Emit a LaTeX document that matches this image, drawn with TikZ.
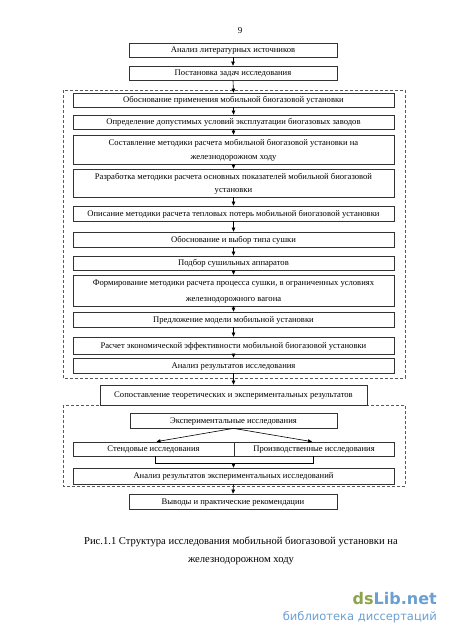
\documentclass[tikz,border=0pt]{standalone}
\usepackage{fontspec}
\setmainfont{Liberation Serif}
\newfontfamily\wmfont{DejaVu Sans}
\usetikzlibrary{arrows.meta}
\definecolor{wmgreen}{HTML}{8DA34B}
\definecolor{wmblue}{HTML}{6A9FD3}
\begin{document}
\begin{tikzpicture}[x=1pt,y=-1pt,
  box/.style={draw=black!80, line width=0.7pt, fill=white, inner sep=0pt, align=center,
    font=\fontsize{8.6}{10.3}\selectfont},
  one/.style={box, text height=5pt, text depth=0pt},
  two/.style={box, text depth=0pt},
  arr/.style={line width=0.6pt, -{Triangle[length=4pt,width=3.5pt]}},
  dashbox/.style={draw=black!65, line width=0.7pt, dash pattern=on 3pt off 2pt},
  ln/.style={line width=0.6pt}]
\useasboundingbox (0,0) rectangle (450,637);
\node (pg) at (240,31) {\fontsize{9}{11}\selectfont 9};
% dashed frames
\draw[dashbox] (63,90) rectangle (405,378);
\draw[dashbox] (63,405) rectangle (405,486);
% boxes
\node[one, minimum width=208pt, minimum height=14pt] (b1) at (233,50) {Анализ литературных источников};
\node[one, minimum width=208pt, minimum height=14pt] (b2) at (233,73) {Постановка задач исследования};
\node[one, minimum width=321pt, minimum height=14pt] (b3) at (233.5,100) {Обоснование применения мобильной биогазовой установки};
\node[one, minimum width=321pt, minimum height=14pt] (b4) at (233.5,122) {Определение допустимых условий эксплуатации биогазовых заводов};
\node[two, minimum width=321pt, minimum height=29pt] (b5) at (233.5,149.5) {Составление методики расчета мобильной биогазовой установки на\\[4.5pt]железнодорожном ходу};
\node[two, minimum width=321pt, minimum height=28pt] (b6) at (233.5,183) {Разработка методики расчета основных показателей мобильной биогазовой\\[3.5pt]установки};
\node[one, minimum width=321pt, minimum height=15pt] (b7) at (233.5,213.5) {Описание методики расчета тепловых потерь мобильной биогазовой установки};
\node[one, minimum width=321pt, minimum height=15pt] (b8) at (233.5,239.5) {Обоснование и выбор типа сушки};
\node[one, minimum width=321pt, minimum height=14pt] (b9) at (233.5,263) {Подбор сушильных аппаратов};
\node[two, minimum width=321pt, minimum height=31pt] (b10) at (233.5,290.5) {Формирование методики расчета процесса сушки, в ограниченных условиях\\[6pt]железнодорожного вагона};
\node[one, minimum width=321pt, minimum height=15pt] (b11) at (233.5,319.5) {Предложение модели мобильной установки};
\node[one, minimum width=321pt, minimum height=17pt] (b12) at (233.5,345.5) {Расчет экономической эффективности мобильной биогазовой установки};
\node[one, minimum width=321pt, minimum height=15pt] (b13) at (233.5,365.5) {Анализ результатов исследования};
\node[one, minimum width=267pt, minimum height=20pt] (b14) at (233.5,395) {Сопоставление теоретических и экспериментальных результатов};
\node[one, minimum width=207pt, minimum height=15pt] (b15) at (233.5,420.5) {Экспериментальные исследования};
\node[one, minimum width=161pt, minimum height=14pt] (b16) at (153.5,449) {Стендовые исследования};
\node[one, minimum width=160pt, minimum height=14pt] (b17) at (314,449) {Производственные исследования};
\node[one, minimum width=321pt, minimum height=16pt] (b18) at (233.5,476) {Анализ результатов экспериментальных исследований};
\node[one, minimum width=208pt, minimum height=15pt] (b19) at (233,501.5) {Выводы и практические рекомендации};
% arrows
\foreach \a/\b in {b1/b2,b2/b3,b3/b4,b4/b5,b5/b6,b6/b7,b7/b8,b8/b9,b9/b10,b10/b11,b11/b12,b12/b13,b13/b14,b18/b19}
  \draw[arr] (\a.south) -- (\b.north);
\draw[arr] (b15.south) -- ([xshift=3pt]b16.north);
\draw[arr] (b15.south) -- ([xshift=-2pt]b17.north);
\draw[ln] ([xshift=1.5pt]b16.south) -- ++(0,7) coordinate (bl) -| ([xshift=-1pt]b17.south);
\draw[arr] (bl -| b18.north) -- (b18.north);
% caption
\node[font=\fontsize{10.6}{18}\selectfont, align=center] (cap) at (241,551) {Рис.1.1 Структура исследования мобильной биогазовой установки на\\железнодорожном ходу};
% watermark
\node[anchor=east, inner sep=0pt, font=\wmfont\bfseries\fontsize{16}{18}\selectfont] (wm1) at (437,599) {\textcolor{wmgreen}{ds}\textcolor{wmblue}{Lib.net}};
\node[anchor=east, inner sep=0pt, font=\wmfont\fontsize{11.5}{13}\selectfont, text=wmblue] (wm2) at (437,617) {библиотека диссертаций};
\end{tikzpicture}
\end{document}
